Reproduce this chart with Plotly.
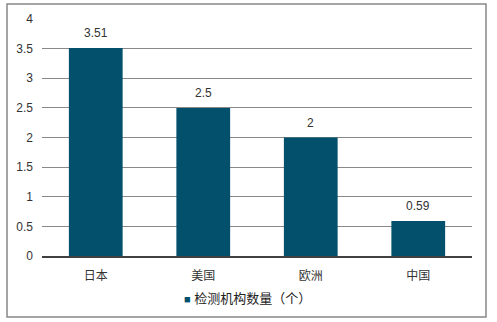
import plotly.graph_objects as go

categories = ["日本", "美国", "欧洲", "中国"]
values = [3.51, 2.5, 2, 0.59]
value_labels = ["3.51", "2.5", "2", "0.59"]
series_name = "检测机构数量（个）"
tick_vals = [0, 0.5, 1, 1.5, 2, 2.5, 3, 3.5, 4]
tick_text = ["0", "0.5", "1", "1.5", "2", "2.5", "3", "3.5", "4"]

W, H = 497, 322
L, R, T, B = 42, 25, 19, 66
pw = W - L - R
ph = H - T - B

bar_color = "#02506B"
font_family = "Liberation Sans, Noto Sans CJK SC, DejaVu Sans, sans-serif"

fig = go.Figure()
fig.add_trace(go.Bar(
    x=categories, y=values, name=series_name,
    marker=dict(color=bar_color, line=dict(width=0)),
    showlegend=False,
))

annotations = []
for c, v, t in zip(categories, values, value_labels):
    annotations.append(dict(x=c, y=v, text=t, showarrow=False, yanchor="bottom",
                            yshift=6, font=dict(size=12, color="#333333")))

def px_x(p):
    return (p - L) / pw

def px_y(p):
    return (H - B - p) / ph

annotations.append(dict(
    xref="paper", yref="paper", x=px_x(182), y=px_y(298), xanchor="left", yanchor="middle",
    showarrow=False,
    text=f'<span style="color:{bar_color};font-size:11px">■</span> {series_name}',
    font=dict(size=13, color="#222222"),
))

fig.update_layout(
    width=W, height=H,
    margin=dict(l=L, r=R, t=T, b=B),
    paper_bgcolor="white", plot_bgcolor="white",
    font=dict(family=font_family, size=12, color="#333333"),
    bargap=0.5,
    showlegend=False,
    annotations=annotations,
    xaxis=dict(showgrid=False, showline=True, linecolor="#404040", linewidth=1.5,
               ticks="", tickfont=dict(size=12, color="#333333"), ticklabelstandoff=8),
    yaxis=dict(range=[0, 4], tickvals=tick_vals, ticktext=tick_text,
               showgrid=True, gridcolor="#888888", gridwidth=1,
               zeroline=False, showline=False, ticks="",
               tickfont=dict(size=12, color="#333333"), ticklabelstandoff=8),
    shapes=[dict(type="rect", xref="paper", yref="paper",
                 x0=px_x(7), x1=px_x(486), y0=px_y(317), y1=px_y(4),
                 line=dict(color="#888888", width=1.5), fillcolor="rgba(0,0,0,0)", layer="below")],
)

fig.write_html("out.html")
